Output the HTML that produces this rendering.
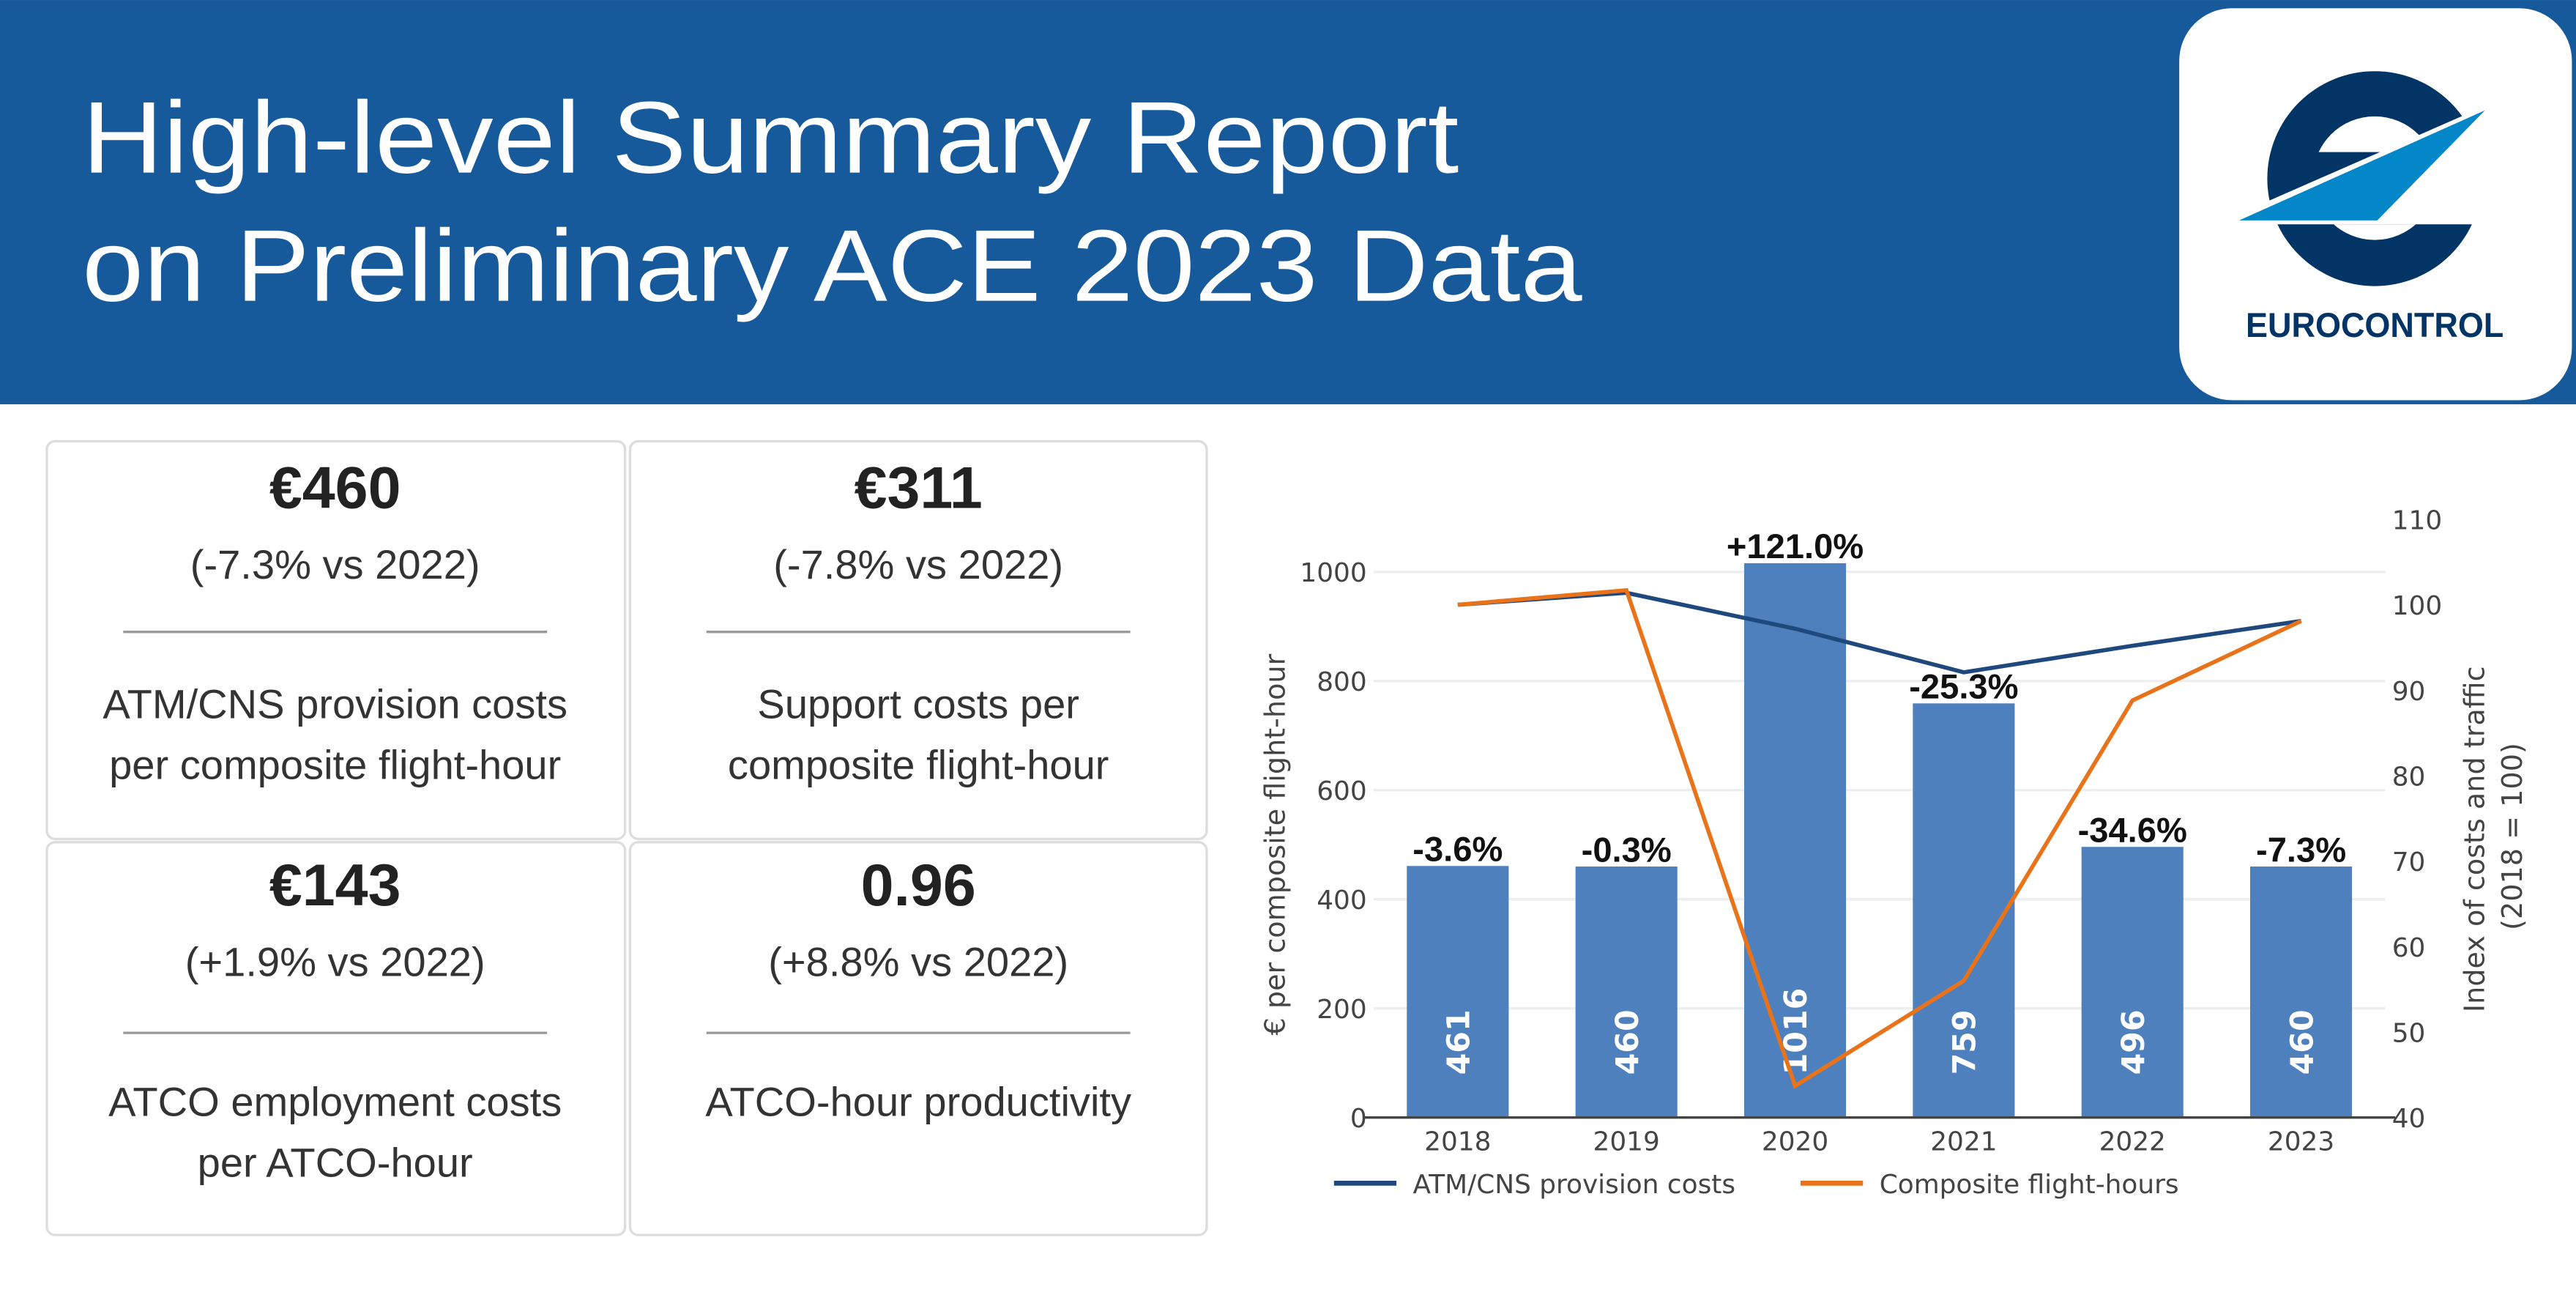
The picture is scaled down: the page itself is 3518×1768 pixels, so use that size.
<!DOCTYPE html>
<html><head><meta charset="utf-8"><style>
html,body{margin:0;padding:0;background:#fff;}
svg{display:block;}
.t{font-family:"Liberation Sans Narrow","Liberation Sans",sans-serif;}
.c{font-family:"DejaVu Sans","Liberation Sans",sans-serif;}
</style></head><body>
<svg id="root" width="3518" height="1768" viewBox="0 0 1568 788" xmlns="http://www.w3.org/2000/svg">
<defs>
<clipPath id="topClip"><rect x="0" y="0" width="2000" height="583"/></clipPath>
<clipPath id="botClip"><rect x="0" y="860" width="2000" height="800"/></clipPath>
</defs>
<rect x="0" y="0" width="1568" height="788" fill="#fff"/>
<g>
<rect x="0" y="0" width="1568" height="246" fill="#175a9c"/>
<text x="50" y="105" font-family="Liberation Sans" font-size="62" fill="#fff" textLength="838" lengthAdjust="spacingAndGlyphs">High-level Summary Report</text>
<text x="50" y="183" font-family="Liberation Sans" font-size="62" fill="#fff" textLength="913" lengthAdjust="spacingAndGlyphs">on Preliminary ACE 2023 Data</text>
</g>
<g>
<rect x="1326.5" y="5" width="239" height="238.5" rx="32" fill="#fff"/>
<g transform="translate(1319.3,0) scale(0.1587)">
<circle cx="795" cy="685" r="412" fill="#023466"/>
<polygon points="393,768 1135,443 1400,330 1400,860 300,860 300,808" fill="#fff"/>
<circle cx="795" cy="683" r="237" fill="#fff" clip-path="url(#topClip)"/>
<circle cx="795" cy="683" r="237" fill="#fff" clip-path="url(#botClip)"/>
<polygon points="275,845 1218,423 805,845" fill="#0387c9"/>
</g>
<text x="1367" y="205" font-family="Liberation Sans" font-weight="bold" font-size="21" fill="#023466" textLength="157" lengthAdjust="spacingAndGlyphs">EUROCONTROL</text>
</g>

<g>
<g>
<rect x="28.5" y="268.5" width="352" height="242" rx="5" fill="#fff" stroke="#ddd" stroke-width="1.5"/>
<text class="t" x="204" y="309" text-anchor="middle" font-size="36" font-weight="bold" fill="#222">€460</text>
<text class="t" x="204" y="352" text-anchor="middle" font-size="25" fill="#333">(-7.3% vs 2022)</text>
<line x1="75" y1="384.5" x2="333" y2="384.5" stroke="#999" stroke-width="1.5"/>
<text class="t" x="204" y="437" text-anchor="middle" font-size="25" fill="#333">ATM/CNS provision costs</text>
<text class="t" x="204" y="474" text-anchor="middle" font-size="25" fill="#333">per composite flight-hour</text>
</g>
<g>
<rect x="383.5" y="268.5" width="351" height="242" rx="5" fill="#fff" stroke="#ddd" stroke-width="1.5"/>
<text class="t" x="559" y="309" text-anchor="middle" font-size="36" font-weight="bold" fill="#222">€311</text>
<text class="t" x="559" y="352" text-anchor="middle" font-size="25" fill="#333">(-7.8% vs 2022)</text>
<line x1="430" y1="384.5" x2="688" y2="384.5" stroke="#999" stroke-width="1.5"/>
<text class="t" x="559" y="437" text-anchor="middle" font-size="25" fill="#333">Support costs per</text>
<text class="t" x="559" y="474" text-anchor="middle" font-size="25" fill="#333">composite flight-hour</text>
</g>
<g>
<rect x="28.5" y="512.5" width="352" height="239" rx="5" fill="#fff" stroke="#ddd" stroke-width="1.5"/>
<text class="t" x="204" y="551" text-anchor="middle" font-size="36" font-weight="bold" fill="#222">€143</text>
<text class="t" x="204" y="594" text-anchor="middle" font-size="25" fill="#333">(+1.9% vs 2022)</text>
<line x1="75" y1="628.5" x2="333" y2="628.5" stroke="#999" stroke-width="1.5"/>
<text class="t" x="204" y="679" text-anchor="middle" font-size="25" fill="#333">ATCO employment costs</text>
<text class="t" x="204" y="716" text-anchor="middle" font-size="25" fill="#333">per ATCO-hour</text>
</g>
<g>
<rect x="383.5" y="512.5" width="351" height="239" rx="5" fill="#fff" stroke="#ddd" stroke-width="1.5"/>
<text class="t" x="559" y="551" text-anchor="middle" font-size="36" font-weight="bold" fill="#222">0.96</text>
<text class="t" x="559" y="594" text-anchor="middle" font-size="25" fill="#333">(+8.8% vs 2022)</text>
<line x1="430" y1="628.5" x2="688" y2="628.5" stroke="#999" stroke-width="1.5"/>
<text class="t" x="559" y="679" text-anchor="middle" font-size="25" fill="#333">ATCO-hour productivity</text>
</g>
</g>
<g id="chart"></g>
</svg>
<script>
const years = ['2018','2019','2020','2021','2022','2023'];
const costPerHour = [461, 460, 1016, 759, 496, 460];
const changeLabels = ['-3.6%','-0.3%','+121.0%','-25.3%','-34.6%','-7.3%'];
const atmCnsIndex = [100, 101.4, 97.2, 92.1, 95.2, 98.1];
const flightHoursIndex = [100, 101.7, 43.7, 56, 88.8, 98.1];
const leftTicks = [0, 200, 400, 600, 800, 1000];
const rightTicks = [40, 50, 60, 70, 80, 90, 100, 110];

const NS = 'http://www.w3.org/2000/svg';
const g = document.getElementById('chart');
const X0 = 836, X1 = 1452, Y0 = 680;
const band = (X1 - X0) / years.length;
const xC = i => X0 + band * (i + 0.5);
const yL = v => Y0 - v * 0.332;
const yR = v => Y0 - (v - 40) * 5.2;
function mk(tag, attrs, txt) {
  const e = document.createElementNS(NS, tag);
  for (const k in attrs) e.setAttribute(k, attrs[k]);
  if (txt !== undefined) e.textContent = txt;
  g.appendChild(e);
  return e;
}
leftTicks.forEach(t => {
  if (t > 0) {
    const gl = mk('line', {x1: X0, x2: X1, y1: yL(t), y2: yL(t), stroke: '#eee', 'stroke-width': 1.5});
    
    
  }
  const tl = mk('text', {x: X0 - 4, y: yL(t) + 6, 'text-anchor': 'end', class: 'c', 'font-size': 16, fill: '#444'}, t);
  
  
});
rightTicks.forEach(t => {
  const tl = mk('text', {x: X1 + 4, y: yR(t) + 6, class: 'c', 'font-size': 16, fill: '#444'}, t);
  
  
});
const bw = 62;
years.forEach((yr, i) => {
  const v = costPerHour[i];
  const b = mk('rect', {x: xC(i) - bw / 2, y: yL(v), width: bw, height: Y0 - yL(v), fill: '#4e80bd'});
  
  
  const vl = mk('text', {x: 0, y: 0, transform: `translate(${xC(i) + 7},${Y0 - 26}) rotate(-90)`, class: 'c', 'font-size': 19, 'font-weight': 'bold', fill: '#fff'}, v);
  
  
  const cl = mk('text', {x: xC(i), y: yL(v) - 3, 'text-anchor': 'middle', 'font-family': 'Liberation Sans Narrow, Liberation Sans, sans-serif', 'font-size': 21, 'font-weight': 'bold', fill: '#111'}, changeLabels[i]);
  
  
  const xl = mk('text', {x: xC(i), y: Y0 + 20, 'text-anchor': 'middle', class: 'c', 'font-size': 16, fill: '#444'}, yr);
  
  
});
const axis = mk('line', {x1: X0 - 6, x2: X1 + 6, y1: Y0, y2: Y0, stroke: '#444', 'stroke-width': 1.5});


const l1 = mk('polyline', {points: atmCnsIndex.map((v, i) => xC(i) + ',' + yR(v)).join(' '), fill: 'none', stroke: '#1f497d', 'stroke-width': 2.5});


const l2 = mk('polyline', {points: flightHoursIndex.map((v, i) => xC(i) + ',' + yR(v)).join(' '), fill: 'none', stroke: '#e8731a', 'stroke-width': 2.5});


const lt = mk('text', {x: 0, y: 0, transform: 'translate(782,630) rotate(-90)', class: 'c', 'font-size': 17, fill: '#444'}, '€ per composite flight-hour');


const rt1 = mk('text', {x: 0, y: 0, transform: 'translate(1512,616) rotate(-90)', class: 'c', 'font-size': 17, fill: '#444'}, 'Index of costs and traffic');


const rt2 = mk('text', {x: 0, y: 0, transform: 'translate(1535,566) rotate(-90)', class: 'c', 'font-size': 17, fill: '#444'}, '(2018 = 100)');


const le1 = mk('line', {x1: 812, x2: 850, y1: 720, y2: 720, stroke: '#1f497d', 'stroke-width': 3});


const lx1 = mk('text', {x: 860, y: 726, class: 'c', 'font-size': 16, fill: '#444'}, 'ATM/CNS provision costs');


const le2 = mk('line', {x1: 1096, x2: 1134, y1: 720, y2: 720, stroke: '#e8731a', 'stroke-width': 3});


const lx2 = mk('text', {x: 1144, y: 726, class: 'c', 'font-size': 16, fill: '#444'}, 'Composite flight-hours');


</script>
</body></html>
